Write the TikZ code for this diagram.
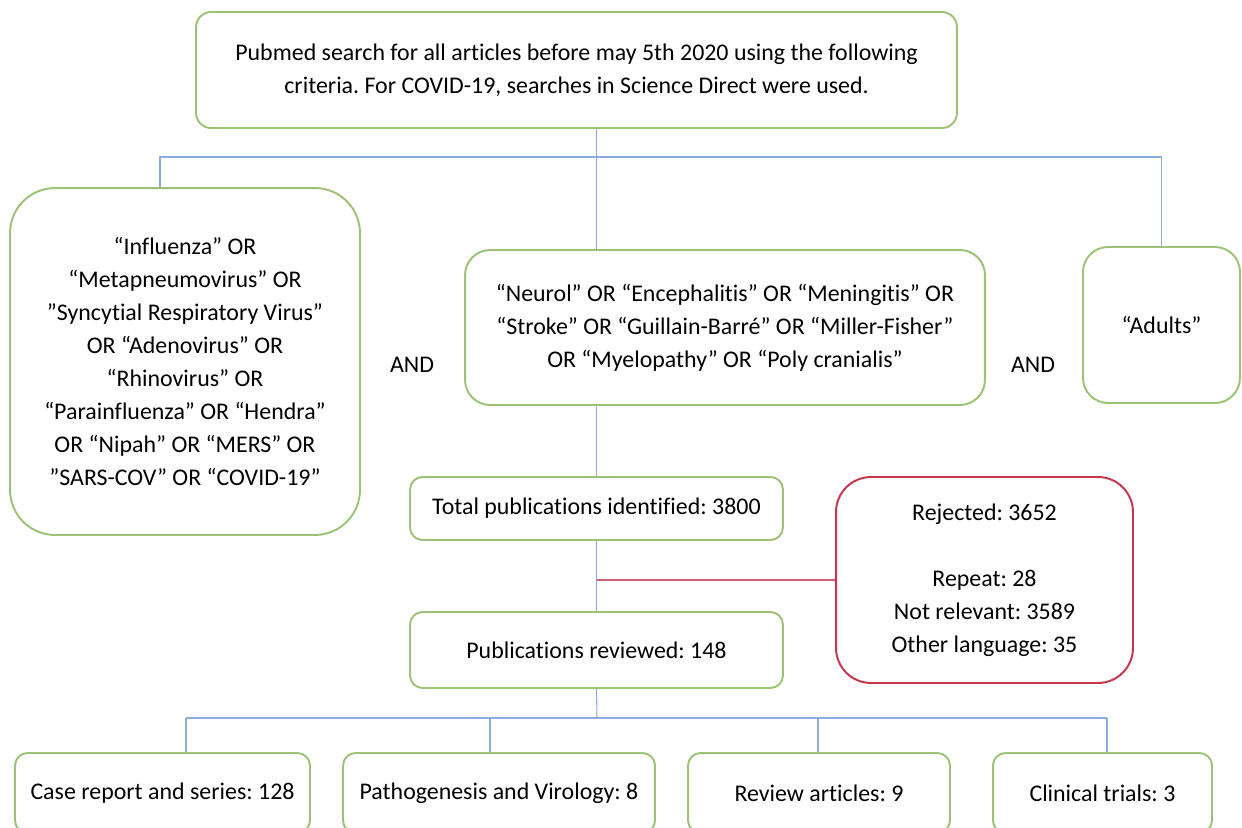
\documentclass[tikz,border=0pt]{standalone}
\usepackage{fontspec}
\setmainfont[Ligatures = NoCommon]{Carlito}
\usepackage{xcolor}
\usetikzlibrary{calc}
\definecolor{BoxCol}{HTML}{9CC177}
\definecolor{RejectCol}{HTML}{C8344F}
\definecolor{LinkCol}{HTML}{8FAADC}
\frenchspacing

\begin{document}
\begin{tikzpicture}[x = 0.02cm, y = -0.02cm,
		every node/.style = {font = \fontsize{13.6}{18.8}\selectfont, text = black},
		box/.style = {draw = BoxCol, line width = 1.1pt, rounded corners = 0.3cm, align = center, inner sep = 0pt},
		rejbox/.style = {box, draw = RejectCol, rounded corners = 0.7cm},
		link/.style = {draw = LinkCol, line width = 0.6pt},
		rejlink/.style = {draw = RejectCol!80, line width = 0.8pt}]
	\useasboundingbox (0, 0) rectangle (1242, 828);
	\clip (0, 0) rectangle (1242, 828);
	\node[box, minimum width = 15.22cm, minimum height = 2.32cm] (search) at (576.5, 70)
		{Pubmed search for all articles before may 5th 2020 using the following\\criteria. For COVID-19, searches in Science Direct were used.};
	\node[box, rounded corners = 0.9cm, minimum width = 7cm, minimum height = 6.94cm] (virus) at (185, 361.5)
		{“Influenza” OR\\“Metapneumovirus” OR\\”Syncytial Respiratory Virus”\\OR “Adenovirus” OR\\“Rhinovirus” OR\\“Parainfluenza” OR “Hendra”\\OR “Nipah” OR “MERS” OR\\”SARS-COV” OR “COVID-19”};
	\node[box, rounded corners = 0.5cm, minimum width = 10.4cm, minimum height = 3.1cm] (neuro) at (725, 327.5)
		{“Neurol” OR “Encephalitis” OR “Meningitis” OR\\“Stroke” OR “Guillain-Barré” OR “Miller-Fisher”\\OR “Myelopathy” OR “Poly cranialis”};
	\node[box, rounded corners = 0.5cm, minimum width = 3.14cm, minimum height = 3.12cm] (adults) at (1161.5, 325) {“Adults”};
	\node (and1) at (412, 365) {AND};
	\node (and2) at (1033, 365) {AND};
	\node[box, rounded corners = 0.25cm, minimum width = 7.46cm, minimum height = 1.26cm] (total) at (596.5, 508.5)
		{Total publications identified: 3800};
	\node[box, rounded corners = 0.25cm, minimum width = 7.46cm, minimum height = 1.52cm] (reviewed) at (596.5, 650)
		{Publications reviewed: 148};
	\node[rejbox, minimum width = 5.94cm, minimum height = 4.12cm] (rejected) at (984.5, 580)
		{Rejected: 3652\\[18.8pt]Repeat: 28\\Not relevant: 3589\\Other language: 35};
	\foreach \name/\cx/\w/\txt in {case/162.5/5.9/Case report and series: 128, patho/499/6.24/Pathogenesis and Virology: 8,
			review/819/5.24/Review articles: 9, trials/1102.5/4.38/Clinical trials: 3} {
			\node[box, rounded corners = 0.25cm, minimum width = \w cm, minimum height = 1.6cm] (\name) at (\cx, 793) {\txt};
		}
	\coordinate (fork) at (160, 157);
	\draw[link] (search.south -| total.north) -- (neuro.north -| total.north);
	\draw[link] (virus.north -| fork) |- (adults.north |- fork) -- (adults.north);
	\draw[link] (neuro.south -| total.north) -- (total.north);
	\draw[link] (total.south) -- (reviewed.north);
	\draw[rejlink] (total.south |- rejected.west) -- (rejected.west);
	\coordinate (bar) at (597, 718);
	\draw[link] (reviewed.south) -- (bar);
	\foreach \name/\dx in {case/186, patho/490, review/818, trials/1107} {
			\coordinate (drop-\name) at (\dx, 718);
			\draw[link] (drop-\name) -- (\name.north -| drop-\name);
		}
	\draw[link] (drop-case) -- (drop-trials);
\end{tikzpicture}
\end{document}
